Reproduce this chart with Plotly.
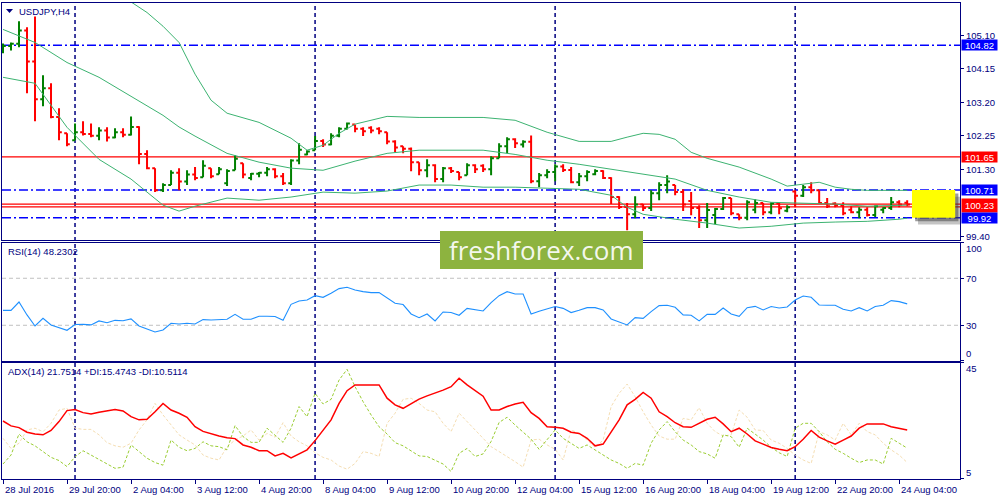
import plotly.graph_objects as go
from plotly.subplots import make_subplots

# USDJPY H4 bar chart with Bollinger bands, RSI(14) and ADX(14) panels,
# redrawn in the look of a MetaTrader terminal window.

SYMBOL = "USDJPY,H4"

# bar number counted from the first visible bar (28 Jul 2016 12:00)
bar_idx = list(range(114))

bar_open = [
    104.62, 104.80, 104.86, 105.24, 104.36, 103.29, 103.60, 102.78, 102.32, 102.12,
    102.35, 102.30, 102.25, 102.40, 102.20, 102.35, 102.28, 102.50, 101.73, 101.33,
    100.70, 100.85, 101.20, 100.95, 101.15, 101.07, 101.33, 101.16, 100.90, 101.27,
    101.47, 101.05, 101.17, 101.20, 101.30, 101.10, 100.90, 101.55, 101.72, 101.84,
    102.10, 102.00, 102.25, 102.45, 102.57, 102.45, 102.48, 102.45, 102.35, 102.09,
    101.95, 101.88, 101.50, 101.27, 101.41, 101.02, 101.33, 101.22, 101.13, 101.41,
    101.40, 101.30, 101.61, 101.95, 102.15, 102.00, 102.08, 100.96, 101.13, 101.22,
    101.38, 101.28, 100.93, 101.10, 101.16, 101.25, 101.05, 100.51, 100.23, 100.02,
    100.30, 100.20, 100.62, 100.85, 100.85, 100.65, 100.40, 100.20, 99.85, 100.00,
    100.17, 100.48, 100.02, 99.92, 100.15, 100.34, 100.08, 100.33, 100.12, 100.67,
    100.55, 100.79, 100.70, 100.34, 100.33, 100.27, 100.15, 100.08, 100.15, 100.00,
    100.15, 100.20, 100.36, 100.35,
]
bar_high = [
    104.87, 104.90, 105.50, 105.33, 105.64, 103.97, 103.74, 103.03, 102.32, 102.60,
    102.66, 102.60, 102.49, 102.49, 102.46, 102.46, 102.80, 102.52, 101.84, 101.33,
    100.90, 101.27, 101.33, 101.27, 101.36, 101.555, 101.33, 101.36, 101.30, 101.70,
    101.47, 101.19, 101.22, 101.36, 101.33, 101.19, 101.58, 102.04, 101.84, 102.24,
    102.15, 102.32, 102.49, 102.63, 102.57, 102.49, 102.52, 102.49, 102.35, 102.12,
    101.95, 101.92, 101.50, 101.58, 101.44, 101.36, 101.36, 101.22, 101.47, 101.44,
    101.44, 101.67, 102.04, 102.21, 102.18, 102.12, 102.26, 101.19, 101.30, 101.44,
    101.44, 101.36, 101.19, 101.27, 101.30, 101.27, 101.07, 100.53, 100.34, 100.53,
    100.31, 100.70, 100.93, 101.13, 100.85, 100.73, 100.65, 100.28, 100.34, 100.20,
    100.51, 100.48, 100.02, 100.42, 100.45, 100.34, 100.36, 100.34, 100.28, 100.70,
    100.85, 100.93, 100.70, 100.48, 100.36, 100.36, 100.25, 100.22, 100.22, 100.28,
    100.22, 100.51, 100.42, 100.42,
]
bar_low = [
    104.59, 104.67, 104.76, 103.46, 102.66, 103.09, 102.75, 102.12, 101.95, 102.12,
    102.26, 102.21, 102.12, 102.09, 102.18, 102.21, 102.26, 101.44, 101.30, 100.65,
    100.65, 100.85, 100.70, 100.85, 100.99, 101.07, 101.04, 101.16, 100.82, 101.27,
    101.04, 100.99, 101.07, 101.10, 101.04, 100.85, 100.85, 101.44, 101.70, 101.84,
    101.93, 101.98, 102.21, 102.43, 102.35, 102.24, 102.32, 102.29, 102.01, 101.78,
    101.75, 101.24, 101.13, 101.07, 100.93, 100.93, 101.19, 100.99, 101.13, 101.19,
    101.22, 101.13, 101.61, 101.75, 101.90, 101.92, 100.90, 100.79, 101.04, 100.96,
    101.22, 100.90, 100.82, 100.96, 101.13, 101.02, 100.31, 100.17, 99.57, 99.91,
    100.11, 100.11, 100.42, 100.62, 100.56, 100.11, 99.99, 99.63, 99.63, 99.74,
    100.14, 99.99, 99.85, 99.85, 100.05, 99.99, 100.02, 100.02, 100.08, 100.22,
    100.51, 100.62, 100.31, 100.20, 100.22, 99.99, 100.05, 99.91, 99.96, 99.94,
    100.05, 100.14, 100.22, 100.25,
]
bar_close = [
    104.80, 104.86, 105.24, 104.36, 103.29, 103.60, 102.78, 102.35, 102.01, 102.35,
    102.30, 102.25, 102.40, 102.20, 102.35, 102.28, 102.50, 101.73, 101.33, 100.70,
    100.85, 101.20, 100.95, 101.15, 101.05, 101.40, 101.10, 101.30, 101.25, 101.60,
    101.15, 101.17, 101.20, 101.30, 101.10, 100.90, 101.55, 101.85, 101.80, 102.10,
    102.00, 102.25, 102.45, 102.60, 102.45, 102.38, 102.40, 102.38, 102.09, 101.92,
    101.88, 101.50, 101.27, 101.41, 101.02, 101.33, 101.25, 101.07, 101.41, 101.30,
    101.30, 101.61, 101.95, 102.15, 102.04, 102.08, 100.96, 101.13, 101.22, 101.38,
    101.28, 100.93, 101.10, 101.22, 101.25, 101.05, 100.51, 100.23, 100.02, 100.30,
    100.20, 100.62, 100.85, 100.95, 100.65, 100.30, 100.20, 99.85, 100.14, 100.17,
    100.48, 100.05, 99.92, 100.36, 100.34, 100.08, 100.33, 100.19, 100.22, 100.55,
    100.79, 100.70, 100.34, 100.25, 100.27, 100.05, 100.08, 100.15, 100.00, 100.25,
    100.20, 100.36, 100.30, 100.30,
]

# Bollinger bands, read at a subset of bars
bb_upper_idx = [0, 4, 8, 12, 16, 18, 20, 22, 24, 26, 28, 32, 36, 38, 40, 42, 44, 48,
                52, 56, 60, 64, 66, 68, 72, 76, 78, 80, 82, 84, 86, 88, 92, 96, 98,
                100, 102, 104, 106, 108, 112, 113]
bb_upper = [107.80, 107.40, 107.00, 106.60, 106.05, 105.75, 105.36, 104.90, 104.00,
            103.26, 102.89, 102.63, 102.18, 101.84, 101.98, 102.32, 102.58, 102.80,
            102.77, 102.77, 102.77, 102.69, 102.52, 102.35, 102.09, 102.09, 102.21,
            102.32, 102.29, 102.15, 101.78, 101.61, 101.36, 101.02, 100.82, 100.87,
            100.93, 100.79, 100.73, 100.70, 100.70, 100.70]
bb_mid_idx = [0, 4, 8, 12, 16, 20, 22, 24, 28, 32, 36, 40, 44, 48, 52, 56, 60, 64,
              68, 72, 76, 78, 80, 84, 88, 92, 96, 100, 104, 108, 112, 113]
bb_mid = [105.27, 104.90, 104.33, 103.91, 103.37, 102.83, 102.50, 102.24, 101.75,
          101.50, 101.33, 101.27, 101.53, 101.75, 101.84, 101.84, 101.84, 101.72,
          101.555, 101.44, 101.30, 101.24, 101.16, 101.02, 100.70, 100.51, 100.36,
          100.34, 100.31, 100.25, 100.28, 100.28]
bb_lower = [103.91, 103.74, 102.49, 101.58, 101.02, 100.28, 100.11, 100.25, 100.48,
            100.42, 100.51, 100.65, 100.62, 100.68, 100.85, 100.85, 100.79, 100.79,
            100.76, 100.73, 100.56, 100.22, 100.02, 99.88, 99.77, 99.63, 99.68,
            99.77, 99.80, 99.82, 99.88, 99.91]

rsi = [
    42.7, 42.7, 49.8, 38.8, 29.4, 35.9, 30.3, 28.0, 25.7, 30.6,
    30.8, 30.3, 33.7, 32.2, 34.2, 33.9, 35.4, 29.4, 26.6, 24.3,
    26.0, 31.7, 31.1, 31.7, 31.1, 34.8, 34.5, 35.1, 35.1, 39.3,
    35.1, 35.1, 37.7, 37.7, 37.4, 34.2, 47.8, 50.7, 51.5, 55.2,
    53.8, 57.2, 61.2, 62.3, 60.0, 58.6, 57.8, 57.8, 53.0, 48.7,
    47.6, 39.6, 36.5, 39.6, 33.7, 41.3, 40.8, 38.5, 44.4, 43.0,
    42.2, 49.2, 55.2, 58.6, 56.6, 56.6, 39.6, 41.9, 44.2, 45.9,
    44.4, 40.8, 42.7, 45.0, 45.0, 43.0, 35.4, 33.1, 30.3, 36.5,
    35.9, 41.6, 46.7, 47.0, 45.3, 38.8, 38.5, 33.7, 39.3, 39.3,
    44.7, 39.6, 37.6, 45.0, 46.1, 43.0, 45.9, 44.7, 45.6, 51.5,
    54.9, 53.8, 47.3, 47.0, 47.0, 43.6, 42.2, 45.0, 42.2, 45.9,
    47.0, 51.0, 50.1, 48.2,
]
adx = [
    24.9, 23.2, 22.6, 21.0, 20.4, 20.1, 21.6, 24.7, 28.5, 28.9,
    27.8, 27.3, 27.9, 28.5, 28.9, 28.4, 26.4, 25.3, 25.5, 28.1,
    31.0, 28.7, 27.6, 26.2, 22.9, 21.3, 20.4, 19.7, 19.1, 18.8,
    16.6, 15.8, 14.6, 14.6, 12.8, 13.7, 12.1, 13.5, 14.9, 18.1,
    21.8, 25.3, 31.0, 35.4, 37.4, 37.4, 37.4, 37.4, 32.8, 30.5,
    29.3, 30.8, 32.5, 33.6, 34.5, 35.6, 36.8, 39.7, 37.4, 35.6,
    33.5, 28.7, 28.7, 29.9, 30.8, 31.4, 27.8, 25.8, 22.9, 22.7,
    22.4, 21.0, 20.6, 18.9, 16.3, 16.9, 20.9, 25.3, 30.5, 32.4,
    34.8, 32.8, 28.1, 26.4, 24.3, 22.9, 22.7, 24.1, 25.5, 26.2,
    23.9, 21.2, 22.4, 20.4, 18.0, 16.9, 15.7, 15.1, 14.6, 16.0,
    18.6, 21.6, 19.3, 18.0, 16.9, 18.3, 19.7, 22.4, 23.9, 23.9,
    23.9, 22.9, 22.4, 21.8,
]
plus_di = [
    10.0, 13.1, 20.4, 17.7, 16.3, 14.3, 12.3, 11.2, 9.1, 12.5,
    14.6, 13.1, 11.6, 10.2, 8.5, 8.9, 16.6, 14.3, 12.0, 10.5,
    9.6, 18.3, 15.8, 14.6, 15.4, 17.7, 16.3, 16.0, 14.9, 23.3,
    19.5, 17.5, 17.5, 22.4, 20.1, 17.5, 22.4, 29.9, 26.4, 34.5,
    30.8, 32.4, 39.1, 42.8, 36.8, 31.6, 27.0, 22.9, 20.4, 17.4,
    16.3, 14.6, 12.8, 12.6, 11.4, 10.0, 7.4, 13.7, 15.4, 12.6,
    13.5, 17.8, 24.4, 26.2, 23.5, 21.2, 18.6, 15.1, 18.6, 21.8,
    18.9, 17.2, 15.4, 16.6, 14.9, 13.1, 11.4, 10.2, 8.5, 10.2,
    9.6, 17.2, 21.8, 24.7, 21.2, 18.3, 16.6, 14.3, 13.5, 12.0,
    20.1, 19.5, 15.8, 22.4, 20.4, 18.3, 15.8, 13.9, 12.6, 22.4,
    24.1, 24.1, 21.2, 17.7, 15.1, 13.7, 12.0, 10.5, 11.4, 11.4,
    10.0, 18.9, 17.2, 15.5,
]
minus_di = [
    18.9, 15.4, 17.2, 21.8, 22.4, 21.2, 24.1, 28.7, 29.3, 22.4,
    22.0, 22.0, 20.1, 17.4, 16.3, 15.8, 17.2, 21.8, 25.3, 31.0,
    27.0, 23.5, 20.1, 18.3, 16.6, 13.1, 12.0, 11.4, 16.0, 18.3,
    19.7, 21.8, 18.3, 20.6, 19.3, 24.3, 19.7, 17.7, 16.3, 13.9,
    12.3, 11.4, 9.3, 8.2, 10.2, 14.3, 13.7, 12.6, 24.1, 27.6,
    32.4, 32.8, 31.0, 28.7, 28.1, 24.1, 21.2, 27.6, 24.7, 21.8,
    18.9, 16.0, 14.3, 12.6, 10.8, 8.9, 18.3, 18.6, 16.6, 15.1,
    11.4, 21.8, 20.6, 18.3, 15.8, 18.3, 29.9, 34.5, 37.7, 33.3,
    28.1, 23.5, 19.7, 18.6, 18.6, 25.8, 25.3, 29.5, 24.1, 21.2,
    19.7, 20.1, 28.7, 26.2, 21.8, 21.6, 18.3, 17.2, 15.4, 13.1,
    11.4, 10.2, 21.2, 20.1, 18.3, 24.1, 20.1, 24.1, 21.2, 20.1,
    17.2, 14.9, 13.1, 10.5,
]

# weekly separators (Monday 00:00 bars) and time scale labels
week_start_idx = [9, 39, 69, 99]
time_tick_idx = [0, 8, 16, 24, 32, 40, 48, 56, 64, 72, 80, 88, 96, 104, 112]
time_tick_text = ["28 Jul 2016", "29 Jul 20:00", "2 Aug 04:00", "3 Aug 12:00",
                  "4 Aug 20:00", "8 Aug 04:00", "9 Aug 12:00", "10 Aug 20:00",
                  "12 Aug 04:00", "15 Aug 12:00", "16 Aug 20:00", "18 Aug 04:00",
                  "19 Aug 12:00", "22 Aug 20:00", "24 Aug 04:00"]

price_ticks = [105.10, 104.15, 103.20, 102.25, 101.30, 99.40]
rsi_ticks = [100, 70, 30, 0]
adx_ticks = [45, 5]

# horizontal levels drawn on the chart, and the ones with a price tag
level_blue = [104.82, 100.71, 99.92]
level_red = [101.65, 100.31, 100.23]
tag_prices = [104.82, 101.65, 100.71, 100.27, 99.92]
tag_text = ["104.82", "101.65", "100.71", "100.23", "99.92"]
tag_color = ["#0000FF", "#FF0000", "#0000FF", "#FF0000", "#0000FF"]
tag_height = [10, 10, 10, 13, 10]

# yellow zone at the right edge
zone_bars = [113.6, 119.0]
zone_prices = [99.92, 100.71]

NAVY = "#000080"
FONT = "Liberation Sans"

fig = make_subplots(rows=3, cols=1, shared_xaxes=True, vertical_spacing=0.005)

# ── Price bars + Bollinger ─────────────────────────────────────────────
fig.add_trace(go.Ohlc(
    x=bar_idx, open=bar_open, high=bar_high, low=bar_low, close=bar_close,
    increasing=dict(line=dict(color="#008000", width=2)),
    decreasing=dict(line=dict(color="#FF0000", width=2)),
    tickwidth=0.35, hoverinfo="skip", showlegend=False,
), row=1, col=1)

for bx, by in [(bb_upper_idx, bb_upper), (bb_mid_idx, bb_mid), (bb_mid_idx, bb_lower)]:
    fig.add_trace(go.Scatter(
        x=bx, y=by, mode="lines",
        line=dict(color="#3CB371", width=1),
        hoverinfo="skip", showlegend=False,
    ), row=1, col=1)

# ── RSI ────────────────────────────────────────────────────────────────
fig.add_trace(go.Scatter(
    x=bar_idx, y=rsi, mode="lines",
    line=dict(color="#1E90FF", width=1.1),
    hoverinfo="skip", showlegend=False,
), row=2, col=1)

# ── ADX ────────────────────────────────────────────────────────────────
fig.add_trace(go.Scatter(
    x=bar_idx, y=minus_di, mode="lines",
    line=dict(color="#F5DEB3", width=1, dash="3px,2px"),
    hoverinfo="skip", showlegend=False,
), row=3, col=1)
fig.add_trace(go.Scatter(
    x=bar_idx, y=plus_di, mode="lines",
    line=dict(color="#9ACD32", width=1, dash="3px,2px"),
    hoverinfo="skip", showlegend=False,
), row=3, col=1)
fig.add_trace(go.Scatter(
    x=bar_idx, y=adx, mode="lines",
    line=dict(color="#FF0000", width=1.5),
    hoverinfo="skip", showlegend=False,
), row=3, col=1)

# ── axes / panels ──────────────────────────────────────────────────────
axis_common = dict(showline=True, mirror=True, linecolor=NAVY, linewidth=1,
                   showgrid=False, zeroline=False)
fig.update_xaxes(range=[-0.125, 119.6], showticklabels=False, ticks="",
                 rangeslider_visible=False, **axis_common)
fig.update_xaxes(ticks="outside", tickvals=time_tick_idx, ticklen=4,
                 tickcolor=NAVY, row=3, col=1)

fig.update_yaxes(side="right", showticklabels=False, ticks="outside",
                 ticklen=3, tickcolor=NAVY, **axis_common)
fig.update_yaxes(domain=[0.5021, 1.0], range=[99.29, 106.02],
                 tickvals=price_ticks, row=1, col=1)
fig.update_yaxes(domain=[0.2489, 0.4958], range=[0, 100],
                 tickvals=rsi_ticks, row=2, col=1)
fig.update_yaxes(domain=[0.0, 0.2437], range=[4.8, 45],
                 tickvals=adx_ticks, row=3, col=1)

shapes = []

# yellow zone with its drop shadow
for dx, dy, col in [(0.75, 0.19, "rgba(60,60,60,0.3)"), (0.4, 0.1, "rgba(60,60,60,0.5)")]:
    shapes.append(dict(type="rect", xref="x", yref="y", layer="below",
                       x0=zone_bars[0] + dx, x1=zone_bars[1] + dx,
                       y0=zone_prices[0] - dy, y1=zone_prices[1] - dy,
                       fillcolor=col, line_width=0))
shapes.append(dict(type="rect", xref="x", yref="y", layer="below",
                   x0=zone_bars[0], x1=zone_bars[1],
                   y0=zone_prices[0], y1=zone_prices[1],
                   fillcolor="#FFFF00", line_width=0))

# weekly separators through all three panels
for wx in week_start_idx:
    shapes.append(dict(type="line", xref="x", yref="paper", layer="below",
                       x0=wx, x1=wx, y0=0, y1=1,
                       line=dict(color=NAVY, width=1.5, dash="4px,3px")))

for lv in level_blue:
    shapes.append(dict(type="line", xref="x domain", yref="y", layer="below",
                       x0=0, x1=1, y0=lv, y1=lv,
                       line=dict(color="#0000FF", width=1.5, dash="9px,3px,2px,3px")))
for lv in level_red:
    shapes.append(dict(type="line", xref="x domain", yref="y", layer="below",
                       x0=0, x1=1, y0=lv, y1=lv,
                       line=dict(color="#FF0000", width=1.2)))

# RSI 70 / 30 levels
for lv in [70, 30]:
    shapes.append(dict(type="line", xref="x2 domain", yref="y2", layer="below",
                       x0=0, x1=1, y0=lv, y1=lv,
                       line=dict(color="#C0C0C0", width=1, dash="4px,3px")))

# small triangle before the symbol name
shapes.append(dict(type="path", xref="paper", yref="paper",
                   xsizemode="pixel", ysizemode="pixel", xanchor=0, yanchor=1,
                   path="M 4,-6 L 11,-6 L 7.5,-10 Z",
                   fillcolor=NAVY, line_width=0))

# watermark plate
shapes.append(dict(type="rect", xref="paper", yref="paper", layer="above",
                   x0=0.4572, x1=0.6691, y0=0.4412, y1=0.5210,
                   fillcolor="#8DB33F", line_width=0))

ann = []
label_font = dict(family=FONT, size=9.5, color=NAVY)

for v in price_ticks:
    ann.append(dict(xref="paper", yref="y", x=1, y=v, xanchor="left",
                    yanchor="middle", xshift=4, text=f"{v:.2f}",
                    showarrow=False, font=label_font))
for v, ys in zip(rsi_ticks, [-6, 0, 0, 7]):
    ann.append(dict(xref="paper", yref="y2", x=1, y=v, xanchor="left",
                    yanchor="middle", xshift=4, yshift=ys, text=str(v),
                    showarrow=False, font=label_font))
for v, ys in zip(adx_ticks, [-6, 6]):
    ann.append(dict(xref="paper", yref="y3", x=1, y=v, xanchor="left",
                    yanchor="middle", xshift=4, yshift=ys, text=str(v),
                    showarrow=False, font=label_font))

for p, t, c, h in zip(tag_prices, tag_text, tag_color, tag_height):
    ann.append(dict(xref="paper", yref="y", x=1, y=p, xanchor="left",
                    yanchor="middle", xshift=1, text=t, showarrow=False,
                    bgcolor=c, width=35, height=h, borderpad=0, align="center",
                    font=dict(family=FONT, size=9.5, color="white")))

for tx, tt in zip(time_tick_idx, time_tick_text):
    ann.append(dict(xref="x3", yref="y3 domain", x=tx, y=0, xanchor="left",
                    yanchor="top", xshift=0, yshift=-3, text=tt,
                    showarrow=False, font=label_font))

ann.append(dict(xref="paper", yref="paper", x=0, y=1, xanchor="left",
                yanchor="middle", xshift=15, yshift=-8, text=SYMBOL,
                showarrow=False, font=label_font))
ann.append(dict(xref="paper", yref="y2 domain", x=0, y=1, xanchor="left",
                yanchor="middle", xshift=4, yshift=-9, text="RSI(14) 48.2302",
                showarrow=False, font=label_font))
ann.append(dict(xref="paper", yref="y3 domain", x=0, y=1, xanchor="left",
                yanchor="middle", xshift=4, yshift=-9,
                text="ADX(14) 21.7514 +DI:15.4743 -DI:10.5114",
                showarrow=False, font=label_font))

ann.append(dict(xref="paper", yref="paper", x=0.5632, y=0.4811,
                xanchor="center", yanchor="middle", text="freshforex.com",
                showarrow=False,
                font=dict(family="Open Sans", size=26, color="rgba(255,255,255,0.92)")))

fig.update_layout(
    width=1000, height=500,
    margin=dict(l=2, r=40, t=3, b=21),
    plot_bgcolor="white", paper_bgcolor="white",
    showlegend=False, hovermode=False,
    shapes=shapes, annotations=ann,
    font=dict(family=FONT, size=9, color=NAVY),
)

# the page body keeps its default 8px margin otherwise
fig.write_html("out.html", config={"displayModeBar": False},
               post_script="document.body.style.margin='0';")
